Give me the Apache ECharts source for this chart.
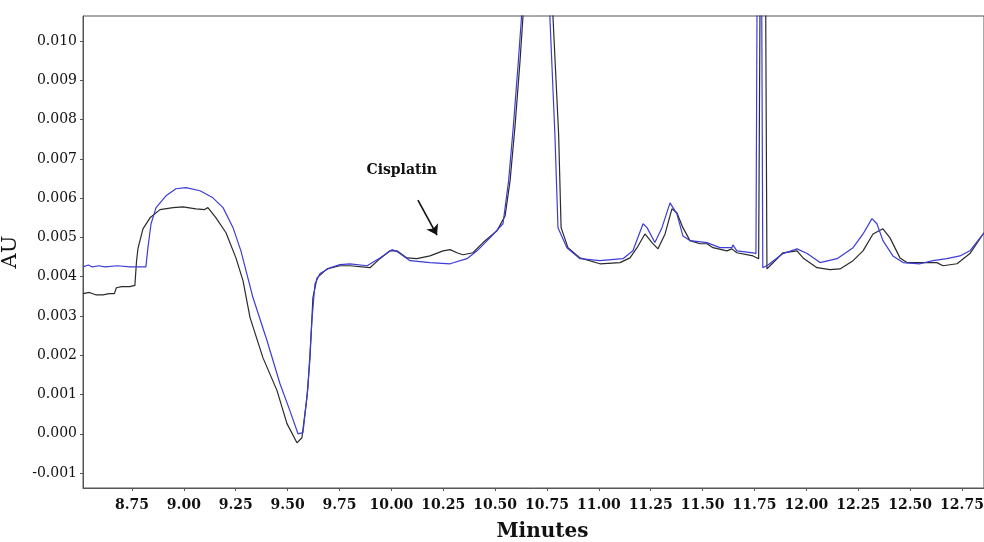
<!DOCTYPE html>
<html>
<head>
<meta charset="utf-8">
<script src="https://cdn.jsdelivr.net/npm/echarts@6/dist/echarts.min.js"></script>
<style>
  html, body { margin: 0; padding: 0; background: #fff; }
  #chart { width: 984px; height: 542px; }
</style>
</head>
<body>
<div id="chart"></div>
<script>
// retention time (minutes) and absorbance (AU)
const timeBlack = [8.514, 8.545, 8.575, 8.610, 8.640, 8.665, 8.675, 8.700, 8.740, 8.764, 8.772, 8.779, 8.803, 8.837, 8.885, 8.948, 8.996, 9.058, 9.100, 9.116, 9.155, 9.203, 9.251, 9.285, 9.319, 9.381, 9.449, 9.497, 9.545, 9.569, 9.593, 9.608, 9.622, 9.642, 9.690, 9.752, 9.801, 9.897, 9.945, 9.993, 10.027, 10.075, 10.123, 10.186, 10.249, 10.283, 10.316, 10.345, 10.393, 10.442, 10.509, 10.548, 10.572, 10.596, 10.620, 10.634, 10.645, 10.706, 10.770, 10.779, 10.806, 10.818, 10.851, 10.909, 11.005, 11.102, 11.150, 11.184, 11.222, 11.256, 11.285, 11.319, 11.352, 11.376, 11.405, 11.439, 11.487, 11.521, 11.550, 11.617, 11.641, 11.665, 11.743, 11.770, 11.791, 11.810, 11.825, 11.887, 11.955, 11.984, 12.051, 12.114, 12.162, 12.225, 12.273, 12.321, 12.369, 12.403, 12.451, 12.485, 12.562, 12.629, 12.658, 12.726, 12.788, 12.856]
const auBlack = [0.00357, 0.00360, 0.00354, 0.00354, 0.00357, 0.00357, 0.00372, 0.00375, 0.00375, 0.00378, 0.00440, 0.00472, 0.00522, 0.00550, 0.00571, 0.00576, 0.00578, 0.00573, 0.00571, 0.00576, 0.00550, 0.00512, 0.00448, 0.00390, 0.00296, 0.00194, 0.00110, 0.00026, -0.00023, -0.00010, 0.00092, 0.00194, 0.00347, 0.00397, 0.00420, 0.00428, 0.00428, 0.00423, 0.00446, 0.00466, 0.00466, 0.00448, 0.00446, 0.00453, 0.00466, 0.00469, 0.00461, 0.00456, 0.00461, 0.00487, 0.00517, 0.00555, 0.00644, 0.00784, 0.00949, 0.01060, 0.01300, 0.03000, 0.01300, 0.01060, 0.00764, 0.00525, 0.00474, 0.00448, 0.00433, 0.00436, 0.00448, 0.00474, 0.00509, 0.00487, 0.00471, 0.00509, 0.00573, 0.00563, 0.00525, 0.00492, 0.00484, 0.00484, 0.00474, 0.00466, 0.00471, 0.00461, 0.00453, 0.00446, 0.02500, 0.00420, 0.00428, 0.00461, 0.00466, 0.00448, 0.00423, 0.00418, 0.00420, 0.00441, 0.00466, 0.00509, 0.00522, 0.00499, 0.00448, 0.00436, 0.00436, 0.00436, 0.00428, 0.00433, 0.00459, 0.00512]

const timeBlue = [8.514, 8.540, 8.560, 8.590, 8.620, 8.680, 8.740, 8.817, 8.827, 8.842, 8.866, 8.914, 8.962, 9.010, 9.078, 9.140, 9.189, 9.237, 9.275, 9.333, 9.401, 9.463, 9.511, 9.550, 9.574, 9.598, 9.617, 9.632, 9.656, 9.704, 9.752, 9.801, 9.883, 9.945, 10.003, 10.027, 10.090, 10.186, 10.283, 10.364, 10.413, 10.475, 10.538, 10.565, 10.588, 10.612, 10.627, 10.638, 10.696, 10.755, 10.764, 10.788, 10.803, 10.846, 10.909, 11.005, 11.116, 11.164, 11.213, 11.232, 11.270, 11.304, 11.343, 11.376, 11.405, 11.439, 11.521, 11.583, 11.641, 11.646, 11.665, 11.743, 11.757, 11.774, 11.790, 11.815, 11.887, 11.955, 12.004, 12.066, 12.148, 12.225, 12.273, 12.316, 12.340, 12.369, 12.417, 12.466, 12.548, 12.610, 12.677, 12.740, 12.788, 12.856]
const auBlue = [0.00425, 0.00430, 0.00425, 0.00428, 0.00425, 0.00428, 0.00425, 0.00425, 0.00474, 0.00535, 0.00576, 0.00606, 0.00624, 0.00627, 0.00619, 0.00601, 0.00576, 0.00525, 0.00466, 0.00347, 0.00237, 0.00128, 0.00059, 0.00000, 0.00003, 0.00117, 0.00288, 0.00382, 0.00408, 0.00423, 0.00431, 0.00433, 0.00428, 0.00448, 0.00469, 0.00464, 0.00441, 0.00436, 0.00433, 0.00446, 0.00466, 0.00499, 0.00535, 0.00644, 0.00784, 0.00949, 0.01060, 0.01300, 0.03000, 0.01300, 0.01060, 0.00764, 0.00525, 0.00474, 0.00446, 0.00441, 0.00446, 0.00466, 0.00535, 0.00525, 0.00487, 0.00525, 0.00588, 0.00560, 0.00504, 0.00492, 0.00487, 0.00474, 0.00474, 0.00481, 0.00466, 0.00461, 0.00459, 0.02500, 0.00423, 0.00430, 0.00459, 0.00471, 0.00459, 0.00436, 0.00446, 0.00474, 0.00509, 0.00548, 0.00535, 0.00492, 0.00453, 0.00436, 0.00433, 0.00441, 0.00446, 0.00453, 0.00466, 0.00512]

const xTicks = [8.75, 9.0, 9.25, 9.5, 9.75, 10.0, 10.25, 10.5, 10.75, 11.0, 11.25, 11.5, 11.75, 12.0, 12.25, 12.5, 12.75]
const yTicks = [-0.001, 0, 0.001, 0.002, 0.003, 0.004, 0.005, 0.006, 0.007, 0.008, 0.009, 0.010]

// annotation: label position and arrow (data coords)
const noteText = [10.05, 0.00672]
const noteArrow = [[10.128, 0.00595], [10.22, 0.00506]]

const zip = (xs, ys) => xs.map((x, i) => [x, ys[i]])

const chart = echarts.init(document.getElementById('chart'))
const serif = 'DejaVu Serif'

const option = {
  animation: false,
  backgroundColor: '#fff',
  grid: {
    left: 83, top: 16, right: 0, bottom: 54,
    outerBoundsMode: 'none',
    show: true, borderColor: '#555', borderWidth: 1
  },
  xAxis: {
    type: 'value',
    min: 8.514,
    max: 12.856,
    name: 'Minutes',
    nameLocation: 'middle',
    nameGap: 34,
    nameTextStyle: { fontFamily: serif, fontWeight: 'bold', fontSize: 20, color: '#111', padding: [0, 0, 0, 18] },
    axisLine: { onZero: false, lineStyle: { color: '#555', width: 1 } },
    axisTick: { customValues: xTicks, length: 3, lineStyle: { color: '#555' } },
    axisLabel: {
      customValues: xTicks,
      formatter: v => v.toFixed(2),
      fontFamily: serif, fontWeight: 'bold', fontSize: 14, color: '#111', margin: 10
    },
    splitLine: { show: false }
  },
  yAxis: {
    type: 'value',
    min: -0.00138,
    max: 0.01064,
    name: 'AU',
    nameLocation: 'middle',
    nameGap: 58,
    nameRotate: 90,
    nameTextStyle: { fontFamily: serif, fontSize: 21, color: '#111' },
    axisLine: { show: true, onZero: false, lineStyle: { color: '#555', width: 1 } },
    axisTick: { show: true, customValues: yTicks, length: 3, lineStyle: { color: '#555' } },
    axisLabel: {
      customValues: yTicks,
      formatter: v => v.toFixed(3),
      fontFamily: serif, fontSize: 14, color: '#111', margin: 6
    },
    splitLine: { show: false }
  },
  series: [
    {
      name: 'sample',
      type: 'line',
      data: zip(timeBlack, auBlack),
      showSymbol: false,
      clip: true,
      lineStyle: { color: '#2a2a2a', width: 1.2 },
      markLine: {
        silent: true,
        symbol: ['none', 'arrow'],
        symbolSize: 10,
        label: { show: false },
        lineStyle: { color: '#111', width: 1.6, type: 'solid' },
        data: [[{ coord: noteArrow[0] }, { coord: noteArrow[1] }]]
      },
      markPoint: {
        silent: true,
        symbol: 'circle',
        symbolSize: 1,
        itemStyle: { color: 'rgba(0,0,0,0)' },
        label: {
          show: true, position: 'inside', formatter: 'Cisplatin',
          fontFamily: serif, fontWeight: 'bold', fontSize: 14, color: '#111'
        },
        data: [{ coord: noteText }]
      }
    },
    {
      name: 'blank',
      type: 'line',
      data: zip(timeBlue, auBlue),
      showSymbol: false,
      clip: true,
      lineStyle: { color: '#3c3cd8', width: 1.2 }
    }
  ]
}
chart.setOption(option)
</script>
</body>
</html>
